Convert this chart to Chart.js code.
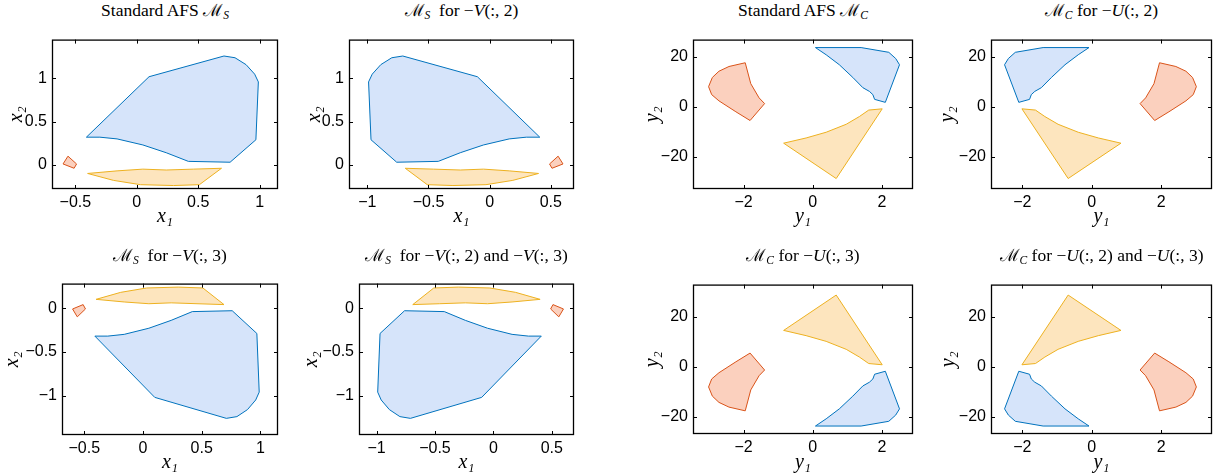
<!DOCTYPE html>
<html>
<head>
<meta charset="utf-8">
<script src="https://cdn.jsdelivr.net/npm/chart.js@4"></script>
<style>
  body { margin: 0; background: #fff; }
  #wrap { position: relative; width: 1223px; height: 476px; overflow: hidden; }
  canvas { position: absolute; }
  .ttl { position: absolute; transform: translateX(-50%); white-space: nowrap;
         font-family: 'Liberation Serif', 'DejaVu Serif', serif; font-size: 17.5px; color: #000; line-height: 20px; }
  .ttl sub { font-size: 0.66em; vertical-align: -0.3em; font-style: italic; }
  .cal { font-family: 'DejaVu Serif', serif; font-size: 17px; }
</style>
</head>
<body>
<div id="wrap"></div>
<script>
// tick values
const sTicksX1 = [-0.5, 0, 0.5, 1];
const sTicksX2 = [-1, -0.5, 0, 0.5];
const sTicksYTop = [0, 0.5, 1];
const sTicksYBot = [-1, -0.5, 0];
const cTicksX = [-2, 0, 2];
const cTicksY = [-20, 0, 20];

// Standard AFS M_S
const s1Blue = [[-0.41,0.32],[0.10,1.02],[0.71,1.26],[0.80,1.24],[0.89,1.16],[0.96,1.05],[0.99,0.96],[0.97,0.29],[0.76,0.03],[0.42,0.04],[0.24,0.14],[0.05,0.23],[-0.16,0.30],[-0.30,0.32],[-0.41,0.32]];
const s1Red = [[-0.60,0.01],[-0.56,0.10],[-0.49,0.01],[-0.51,-0.04],[-0.60,0.01]];
const s1Yellow = [[-0.40,-0.10],[-0.16,-0.07],[0.05,-0.05],[0.24,-0.06],[0.46,-0.05],[0.69,-0.04],[0.51,-0.23],[0.30,-0.24],[0.03,-0.23],[-0.19,-0.18],[-0.40,-0.10]];

// M_S for -V(:,2)
const s2Blue = [[0.41,0.32],[-0.10,1.02],[-0.71,1.26],[-0.80,1.24],[-0.89,1.16],[-0.96,1.05],[-0.99,0.96],[-0.97,0.29],[-0.76,0.03],[-0.42,0.04],[-0.24,0.14],[-0.05,0.23],[0.16,0.30],[0.30,0.32],[0.41,0.32]];
const s2Red = [[0.60,0.01],[0.56,0.10],[0.49,0.01],[0.51,-0.04],[0.60,0.01]];
const s2Yellow = [[0.40,-0.10],[0.16,-0.07],[-0.05,-0.05],[-0.24,-0.06],[-0.46,-0.05],[-0.69,-0.04],[-0.51,-0.23],[-0.30,-0.24],[-0.03,-0.23],[0.19,-0.18],[0.40,-0.10]];

// M_S for -V(:,3)
const s3Blue = [[-0.41,-0.32],[0.10,-1.02],[0.71,-1.26],[0.80,-1.24],[0.89,-1.16],[0.96,-1.05],[0.99,-0.96],[0.97,-0.29],[0.76,-0.03],[0.42,-0.04],[0.24,-0.14],[0.05,-0.23],[-0.16,-0.30],[-0.30,-0.32],[-0.41,-0.32]];
const s3Red = [[-0.60,-0.01],[-0.56,-0.10],[-0.49,-0.01],[-0.51,0.04],[-0.60,-0.01]];
const s3Yellow = [[-0.40,0.10],[-0.16,0.07],[0.05,0.05],[0.24,0.06],[0.46,0.05],[0.69,0.04],[0.51,0.23],[0.30,0.24],[0.03,0.23],[-0.19,0.18],[-0.40,0.10]];

// M_S for -V(:,2) and -V(:,3)
const s4Blue = [[0.41,-0.32],[-0.10,-1.02],[-0.71,-1.26],[-0.80,-1.24],[-0.89,-1.16],[-0.96,-1.05],[-0.99,-0.96],[-0.97,-0.29],[-0.76,-0.03],[-0.42,-0.04],[-0.24,-0.14],[-0.05,-0.23],[0.16,-0.30],[0.30,-0.32],[0.41,-0.32]];
const s4Red = [[0.60,-0.01],[0.56,-0.10],[0.49,-0.01],[0.51,0.04],[0.60,-0.01]];
const s4Yellow = [[0.40,0.10],[0.16,0.07],[-0.05,0.05],[-0.24,0.06],[-0.46,0.05],[-0.69,0.04],[-0.51,0.23],[-0.30,0.24],[-0.03,0.23],[0.19,0.18],[0.40,0.10]];

// Standard AFS M_C
const c1Blue = [[0.08,23.8],[1.40,23.8],[2.20,21.9],[2.40,19.4],[2.51,16.9],[2.10,1.8],[1.79,3.0],[1.74,4.9],[1.64,6.2],[1.45,7.7],[1.16,11.8],[0.77,16.9],[0.39,20.9],[0.08,23.8]];
const c1Red = [[-3.01,8.1],[-2.90,11.8],[-2.71,14.3],[-2.42,16.2],[-1.95,17.7],[-1.79,9.3],[-1.55,3.6],[-1.39,1.3],[-1.81,-5.5],[-2.22,-2.0],[-2.71,2.4],[-2.92,4.9],[-3.01,8.1]];
const c1Yellow = [[-0.84,-14.6],[0.68,-28.8],[2.01,-0.8],[1.62,-1.3],[1.35,-3.9],[0.97,-7.0],[0.39,-10.2],[-0.19,-12.5],[-0.84,-14.6]];

// M_C for -U(:,2)
const c2Blue = [[-0.08,23.8],[-1.40,23.8],[-2.20,21.9],[-2.40,19.4],[-2.51,16.9],[-2.10,1.8],[-1.79,3.0],[-1.74,4.9],[-1.64,6.2],[-1.45,7.7],[-1.16,11.8],[-0.77,16.9],[-0.39,20.9],[-0.08,23.8]];
const c2Red = [[3.01,8.1],[2.90,11.8],[2.71,14.3],[2.42,16.2],[1.95,17.7],[1.79,9.3],[1.55,3.6],[1.39,1.3],[1.81,-5.5],[2.22,-2.0],[2.71,2.4],[2.92,4.9],[3.01,8.1]];
const c2Yellow = [[0.84,-14.6],[-0.68,-28.8],[-2.01,-0.8],[-1.62,-1.3],[-1.35,-3.9],[-0.97,-7.0],[-0.39,-10.2],[0.19,-12.5],[0.84,-14.6]];

// M_C for -U(:,3)
const c3Blue = [[0.08,-23.8],[1.40,-23.8],[2.20,-21.9],[2.40,-19.4],[2.51,-16.9],[2.10,-1.8],[1.79,-3.0],[1.74,-4.9],[1.64,-6.2],[1.45,-7.7],[1.16,-11.8],[0.77,-16.9],[0.39,-20.9],[0.08,-23.8]];
const c3Red = [[-3.01,-8.1],[-2.90,-11.8],[-2.71,-14.3],[-2.42,-16.2],[-1.95,-17.7],[-1.79,-9.3],[-1.55,-3.6],[-1.39,-1.3],[-1.81,5.5],[-2.22,2.0],[-2.71,-2.4],[-2.92,-4.9],[-3.01,-8.1]];
const c3Yellow = [[-0.84,14.6],[0.68,28.8],[2.01,0.8],[1.62,1.3],[1.35,3.9],[0.97,7.0],[0.39,10.2],[-0.19,12.5],[-0.84,14.6]];

// M_C for -U(:,2) and -U(:,3)
const c4Blue = [[-0.08,-23.8],[-1.40,-23.8],[-2.20,-21.9],[-2.40,-19.4],[-2.51,-16.9],[-2.10,-1.8],[-1.79,-3.0],[-1.74,-4.9],[-1.64,-6.2],[-1.45,-7.7],[-1.16,-11.8],[-0.77,-16.9],[-0.39,-20.9],[-0.08,-23.8]];
const c4Red = [[3.01,-8.1],[2.90,-11.8],[2.71,-14.3],[2.42,-16.2],[1.95,-17.7],[1.79,-9.3],[1.55,-3.6],[1.39,-1.3],[1.81,5.5],[2.22,2.0],[2.71,-2.4],[2.92,-4.9],[3.01,-8.1]];
const c4Yellow = [[0.84,14.6],[-0.68,28.8],[-2.01,0.8],[-1.62,1.3],[-1.35,3.9],[-0.97,7.0],[-0.39,10.2],[0.19,12.5],[0.84,14.6]];

const COLORS = {
  blue: { line: '#0072bd', fill: 'rgb(214,228,250)' },
  red: { line: '#d95319', fill: 'rgb(251,208,190)' },
  yellow: { line: '#edb120', fill: 'rgb(253,229,190)' }
};

// layout: box = [left, top, right, bottom] of the axes frame in page pixels
const panels = [
  { title: 'Standard AFS <span class="cal">ℳ</span><sub>S</sub>', box: [52, 29, 278, 189], yTx: 17, xTy: 217, tY: 10,
    xr: [-0.69, 1.15], yr: [-0.28, 1.45], xt: sTicksX1, yt: sTicksYTop, xl: 'x₁', yl: 'x₂', polys: [s1Blue, s1Red, s1Yellow] },
  { title: '<span class="cal">ℳ</span><sub>S</sub>&nbsp; for −<i>V</i>(:, 2)', box: [349, 29, 574, 189], yTx: 315, xTy: 217, tY: 10,
    xr: [-1.15, 0.69], yr: [-0.28, 1.45], xt: sTicksX2, yt: sTicksYTop, xl: 'x₁', yl: 'x₂', polys: [s2Blue, s2Red, s2Yellow] },
  { title: 'Standard AFS <span class="cal">ℳ</span><sub>C</sub>', box: [693, 29, 913, 189], yTx: 653, xTy: 217, tY: 10,
    xr: [-3.46, 2.9], yr: [-33, 27], xt: cTicksX, yt: cTicksY, xl: 'y₁', yl: 'y₂', polys: [c1Blue, c1Red, c1Yellow] },
  { title: '<span class="cal">ℳ</span><sub>C</sub> for −<i>U</i>(:, 2)', box: [991, 29, 1212, 189], yTx: 948, xTy: 217, tY: 10,
    xr: [-2.9, 3.46], yr: [-33, 27], xt: cTicksX, yt: cTicksY, xl: 'y₁', yl: 'y₂', polys: [c2Blue, c2Red, c2Yellow] },
  { title: '<span class="cal">ℳ</span><sub>S</sub>&nbsp; for −<i>V</i>(:, 3)', box: [62, 273, 278, 435], yTx: 13, xTy: 463, tY: 255,
    xr: [-0.69, 1.15], yr: [-1.45, 0.28], xt: sTicksX1, yt: sTicksYBot, xl: 'x₁', yl: 'x₂', polys: [s3Blue, s3Red, s3Yellow] },
  { title: '<span class="cal">ℳ</span><sub>S</sub>&nbsp; for −<i>V</i>(:, 2) and −<i>V</i>(:, 3)', box: [359, 273, 574, 435], yTx: 312, xTy: 463, tY: 255,
    xr: [-1.15, 0.69], yr: [-1.45, 0.28], xt: sTicksX2, yt: sTicksYBot, xl: 'x₁', yl: 'x₂', polys: [s4Blue, s4Red, s4Yellow] },
  { title: '<span class="cal">ℳ</span><sub>C</sub> for −<i>U</i>(:, 3)', box: [693, 274, 913, 434], yTx: 653, xTy: 463, tY: 255,
    xr: [-3.46, 2.9], yr: [-27, 33], xt: cTicksX, yt: cTicksY, xl: 'y₁', yl: 'y₂', polys: [c3Blue, c3Red, c3Yellow] },
  { title: '<span class="cal">ℳ</span><sub>C</sub> for −<i>U</i>(:, 2) and −<i>U</i>(:, 3)', box: [991, 274, 1212, 434], yTx: 949, xTy: 463, tY: 255,
    xr: [-2.9, 3.46], yr: [-27, 33], xt: cTicksX, yt: cTicksY, xl: 'y₁', yl: 'y₂', polys: [c4Blue, c4Red, c4Yellow] }
];

const TICK_FONT = { family: "'Liberation Sans', Arial, sans-serif", size: 16 };
const AXIS_FONT = { family: "'Liberation Serif', 'DejaVu Serif', serif", size: 20, style: 'italic', lineHeight: 1.2 };
const PAD_T = 4, PAD_R = 6;

// frame + inward tick marks on all four sides, like matlab's box on
const framePlugin = {
  id: 'frame',
  afterDatasetsDraw(chart) {
    const { ctx, chartArea: a, scales: { x, y } } = chart;
    ctx.save();
    ctx.strokeStyle = '#000';
    ctx.lineWidth = 1;
    ctx.beginPath();
    x.ticks.forEach(t => {
      const px = Math.round(x.getPixelForValue(t.value)) + 0.5;
      ctx.moveTo(px, a.top); ctx.lineTo(px, a.top + 4);
      ctx.moveTo(px, a.bottom); ctx.lineTo(px, a.bottom - 4);
    });
    y.ticks.forEach(t => {
      const py = Math.round(y.getPixelForValue(t.value)) + 0.5;
      ctx.moveTo(a.left, py); ctx.lineTo(a.left + 4, py);
      ctx.moveTo(a.right, py); ctx.lineTo(a.right - 4, py);
    });
    ctx.stroke();
    ctx.lineWidth = 1.3;
    ctx.strokeRect(a.left + 0.5, a.top + 0.5, a.width - 1, a.height - 1);
    ctx.restore();
  }
};

const fmt = v => String(v).replace('-', '−');

const wrap = document.getElementById('wrap');

panels.forEach(p => {
  const [l, t, r, b] = p.box;
  const half = AXIS_FONT.size * AXIS_FONT.lineHeight / 2;
  const yw = l - p.yTx + half;
  const xh = p.xTy - b + half;

  const cv = document.createElement('canvas');
  cv.width = Math.round((r - l) + yw + PAD_R);
  cv.height = Math.round((b - t) + PAD_T + xh);
  cv.style.left = (l - yw) + 'px';
  cv.style.top = (t - PAD_T) + 'px';
  wrap.appendChild(cv);

  const ttl = document.createElement('div');
  ttl.className = 'ttl';
  ttl.innerHTML = p.title;
  ttl.style.left = ((l + r) / 2) + 'px';
  ttl.style.top = (p.tY - 10) + 'px';
  wrap.appendChild(ttl);

  const names = ['blue', 'red', 'yellow'];
  new Chart(cv, {
    type: 'scatter',
    data: {
      datasets: p.polys.map((poly, i) => ({
        data: poly.map(pt => ({ x: pt[0], y: pt[1] })),
        showLine: true,
        fill: 'shape',
        tension: 0,
        borderWidth: 1,
        borderColor: COLORS[names[i]].line,
        backgroundColor: COLORS[names[i]].fill,
        pointRadius: 0
      }))
    },
    options: {
      responsive: false,
      animation: false,
      devicePixelRatio: 1,
      layout: { padding: { top: PAD_T, right: PAD_R, left: 0, bottom: 0 } },
      plugins: { legend: { display: false }, tooltip: { enabled: false } },
      scales: {
        x: {
          type: 'linear', min: p.xr[0], max: p.xr[1],
          grid: { display: false, drawTicks: false }, border: { display: false },
          afterBuildTicks: s => { s.ticks = p.xt.map(v => ({ value: v })); },
          afterFit: s => { s.height = xh; },
          ticks: { font: TICK_FONT, color: '#000', padding: 4, maxRotation: 0, callback: fmt },
          title: { display: true, text: p.xl, font: AXIS_FONT, color: '#000', padding: 0 }
        },
        y: {
          type: 'linear', min: p.yr[0], max: p.yr[1],
          grid: { display: false, drawTicks: false }, border: { display: false },
          afterBuildTicks: s => { s.ticks = p.yt.map(v => ({ value: v })); },
          afterFit: s => { s.width = yw; },
          ticks: { font: TICK_FONT, color: '#000', padding: 5, callback: fmt },
          title: { display: true, text: p.yl, font: AXIS_FONT, color: '#000', padding: 0 }
        }
      }
    },
    plugins: [framePlugin]
  });
});
</script>
</body>
</html>
